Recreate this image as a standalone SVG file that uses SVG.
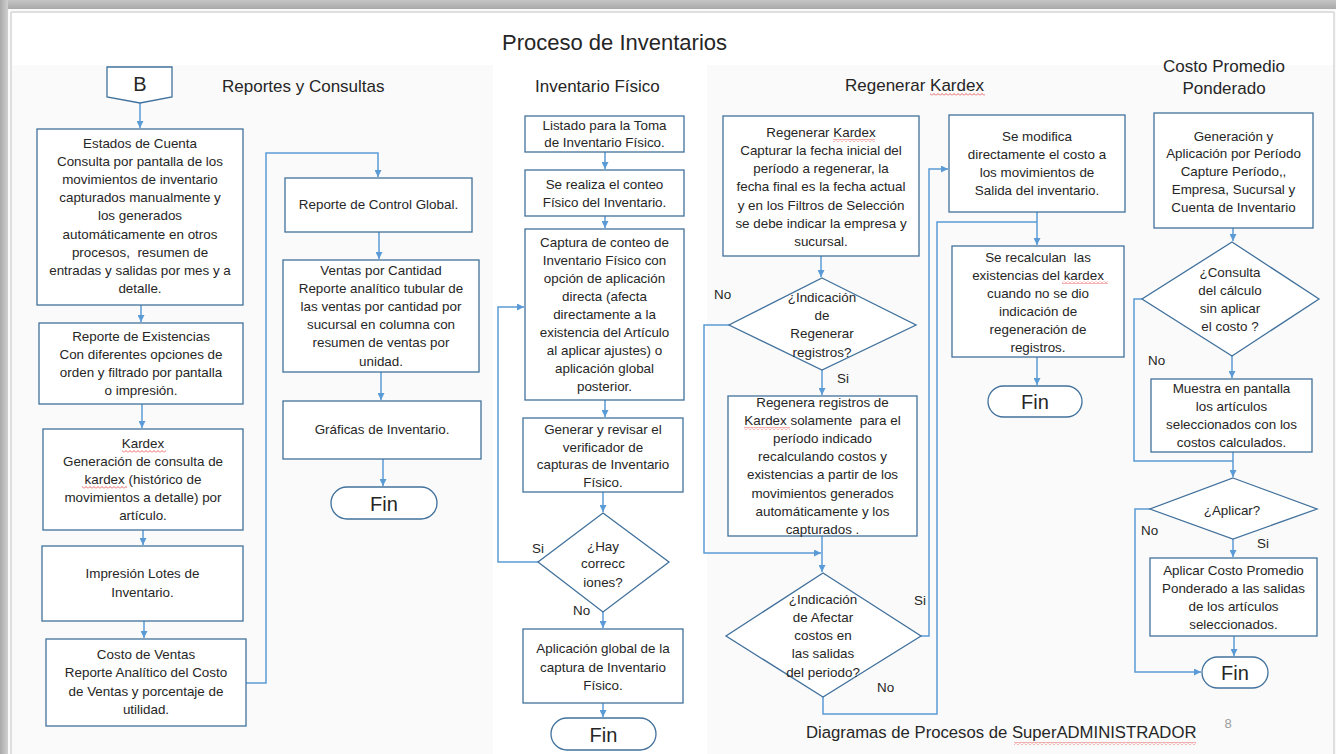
<svg xmlns="http://www.w3.org/2000/svg" width="1336" height="754" viewBox="0 0 1336 754">
<defs>
<linearGradient id="gt" x1="0" y1="0" x2="0" y2="1"><stop offset="0" stop-color="#c4c4c4"/><stop offset="1" stop-color="#a9a9a9"/></linearGradient>
<linearGradient id="gl" x1="0" y1="0" x2="1" y2="0"><stop offset="0" stop-color="#a9a9a9"/><stop offset="1" stop-color="#d0d0d0"/></linearGradient>
<marker id="ah" viewBox="0 0 8 8" refX="8" refY="4" markerWidth="7" markerHeight="7" orient="auto" markerUnits="userSpaceOnUse"><path d="M0,0 L8,4 L0,8 z" fill="#5b9bd5"/></marker>
<pattern id="sq" width="4" height="3" patternUnits="userSpaceOnUse"><path d="M0,2.5 L2,0.5 L4,2.5" stroke="#e23b3b" stroke-width="0.8" fill="none"/></pattern>
</defs>
<style>
.bx{fill:#ffffff;stroke:#41719c;stroke-width:1.3}
.tm{fill:#ffffff;stroke:#41719c;stroke-width:1.3}
.t{font-family:"Liberation Sans",Arial,sans-serif;font-size:13.4px;fill:#262626;text-anchor:middle;white-space:pre}
.lb{font-family:"Liberation Sans",Arial,sans-serif;font-size:13.4px;fill:#262626}
.h{font-family:"Liberation Sans",Arial,sans-serif;font-size:17px;fill:#262626}
.fin{font-family:"Liberation Sans",Arial,sans-serif;font-size:20px;fill:#262626;text-anchor:middle}
.c{fill:none;stroke:#5b9bd5;stroke-width:1.5}
.ca{fill:none;stroke:#5b9bd5;stroke-width:1.5;marker-end:url(#ah)}
</style>
<rect x="0" y="0" width="1336" height="754" fill="#fafafa"/>
<rect x="12" y="13" width="1322" height="52" fill="#ffffff"/>
<rect x="493" y="65" width="214" height="689" fill="#ffffff"/>
<rect x="0" y="0" width="1336" height="9" fill="url(#gt)"/>
<rect x="0" y="0" width="8" height="754" fill="url(#gl)"/>
<line x1="11" y1="12" x2="1334" y2="12" stroke="#d6d6d6" stroke-width="1.5"/>
<line x1="11" y1="12" x2="11" y2="754" stroke="#d6d6d6" stroke-width="1.5"/>
<line x1="1334" y1="12" x2="1334" y2="754" stroke="#d6d6d6" stroke-width="1.5"/>

<g id="titles">
<text x="502" y="50" style="font-family:'Liberation Sans',Arial,sans-serif;font-size:22px;fill:#262626">Proceso de Inventarios</text>
<text class="h" x="222" y="92">Reportes y Consultas</text>
<text class="h" x="535" y="92">Inventario Físico</text>
<text class="h" x="845" y="91">Regenerar Kardex</text>
<text class="h" x="1224" y="72" text-anchor="middle">Costo Promedio</text>
<text class="h" x="1224" y="94" text-anchor="middle">Ponderado</text>
<text x="806" y="738" style="font-family:'Liberation Sans',Arial,sans-serif;font-size:16.7px;fill:#262626">Diagramas de Procesos de SuperADMINISTRADOR</text>
<text x="1228" y="728" text-anchor="middle" style="font-family:'Liberation Sans',Arial,sans-serif;font-size:13px;fill:#9a9a9a">8</text>
</g>

<g id="connectors">
<path class="ca" d="M140,103 V128"/>
<path class="ca" d="M141,305 V322"/>
<path class="ca" d="M142,404 V428"/>
<path class="ca" d="M143,530 V545"/>
<path class="ca" d="M144,621 V638"/>
<path class="ca" d="M246,683 H266 V153 H378 V177"/>
<path class="ca" d="M379,232 V259"/>
<path class="ca" d="M381,372 V400"/>
<path class="ca" d="M383,459 V486"/>
<path class="ca" d="M605,152 V169"/>
<path class="ca" d="M605,216 V228"/>
<path class="ca" d="M605,400 V417"/>
<path class="ca" d="M603,492 V512"/>
<path class="ca" d="M538,562 H498 V307 H524"/>
<path class="ca" d="M603,612 V628"/>
<path class="ca" d="M603,703 V717"/>
<path class="ca" d="M821,256 V277"/>
<path class="ca" d="M822,370 V395"/>
<path class="ca" d="M729,325 H704 V553 H821"/>
<path class="ca" d="M822,536 V572"/>
<path class="ca" d="M921,636 H929 V169 H948"/>
<path class="c" d="M823,697 V714 H937 V222 H1037"/>
<path class="ca" d="M1037,212 V245"/>
<path class="ca" d="M1037,357 V385"/>
<path class="ca" d="M1233,228 V241"/>
<path class="ca" d="M1232,356 V378"/>
<path class="c" d="M1142,299 H1134 V461 H1233"/>
<path class="ca" d="M1233,452 V477"/>
<path class="ca" d="M1233,539 V557"/>
<path class="ca" d="M1150,509 H1135 V672 H1201"/>
<path class="ca" d="M1234,636 V656"/>
</g>

<g id="nB">
<path class="bx" d="M107,67 H172 V97 L140,103 L107,97 Z"/>
<text class="fin" x="140" y="91">B</text>
</g>

<g id="n1">
<rect class="bx" x="37" y="129" width="206" height="176"/>
<text class="t" xml:space="preserve"><tspan x="140" y="147.5">Estados de Cuenta</tspan><tspan x="140" y="165.7">Consulta por pantalla de los</tspan><tspan x="140" y="183.9">movimientos de inventario</tspan><tspan x="140" y="202.1">capturados manualmente y</tspan><tspan x="140" y="220.3">los generados</tspan><tspan x="140" y="238.5">automáticamente en otros</tspan><tspan x="140" y="256.7">procesos,  resumen de</tspan><tspan x="140" y="274.9">entradas y salidas por mes y a</tspan><tspan x="140" y="293.1">detalle.</tspan></text>
</g>

<g id="n2">
<rect class="bx" x="39" y="323" width="204" height="81"/>
<text class="t"><tspan x="141" y="340.5">Reporte de Existencias</tspan><tspan x="141" y="358.5">Con diferentes opciones de</tspan><tspan x="141" y="376.5">orden y filtrado por pantalla</tspan><tspan x="141" y="394.5">o impresión.</tspan></text>
</g>

<g id="n3">
<rect class="bx" x="43" y="429" width="200" height="101"/>
<text class="t"><tspan x="143" y="447.5">Kardex</tspan><tspan x="143" y="465.5">Generación de consulta de</tspan><tspan x="143" y="483.5">kardex (histórico de</tspan><tspan x="143" y="501.5">movimientos a detalle) por</tspan><tspan x="143" y="519.5">artículo.</tspan></text>
</g>

<g id="n4">
<rect class="bx" x="42" y="546" width="201" height="75"/>
<text class="t"><tspan x="142.5" y="577.5">Impresión Lotes de</tspan><tspan x="142.5" y="596.5">Inventario.</tspan></text>
</g>

<g id="n5">
<rect class="bx" x="46" y="639" width="200" height="87"/>
<text class="t"><tspan x="146" y="658.5">Costo de Ventas</tspan><tspan x="146" y="677">Reporte Analítico del Costo</tspan><tspan x="146" y="695.5">de Ventas y porcentaje de</tspan><tspan x="146" y="713.5">utilidad.</tspan></text>
</g>

<g id="n6">
<rect class="bx" x="285" y="178" width="187" height="54"/>
<text class="t" x="378.5" y="208.5">Reporte de Control Global.</text>
</g>

<g id="n7">
<rect class="bx" x="283" y="260" width="196" height="112"/>
<text class="t"><tspan x="381" y="274.5">Ventas por Cantidad</tspan><tspan x="381" y="292.7">Reporte analítico tubular de</tspan><tspan x="381" y="310.9">las ventas por cantidad por</tspan><tspan x="381" y="329.1">sucursal en columna con</tspan><tspan x="381" y="347.3">resumen de ventas por</tspan><tspan x="381" y="365.5">unidad.</tspan></text>
</g>

<g id="n8">
<rect class="bx" x="283" y="401" width="198" height="58"/>
<text class="t" x="382" y="433.5">Gráficas de Inventario.</text>
</g>

<g id="fin1">
<rect class="tm" x="331" y="487" width="106" height="32" rx="16"/>
<text class="fin" x="384" y="511">Fin</text>
</g>

<g id="n9">
<rect class="bx" x="525" y="116" width="159" height="36"/>
<text class="t"><tspan x="604.5" y="129.5">Listado para la Toma</tspan><tspan x="604.5" y="146.5">de Inventario Físico.</tspan></text>
</g>

<g id="n10">
<rect class="bx" x="525" y="170" width="159" height="46"/>
<text class="t"><tspan x="604.5" y="188.5">Se realiza el conteo</tspan><tspan x="604.5" y="206.5">Físico del Inventario.</tspan></text>
</g>

<g id="n11">
<rect class="bx" x="525" y="229" width="159" height="171"/>
<text class="t"><tspan x="604.5" y="246.5">Captura de conteo de</tspan><tspan x="604.5" y="264.5">Inventario Físico con</tspan><tspan x="604.5" y="282.5">opción de aplicación</tspan><tspan x="604.5" y="300.5">directa (afecta</tspan><tspan x="604.5" y="318.5">directamente a la</tspan><tspan x="604.5" y="336.5">existencia del Artículo</tspan><tspan x="604.5" y="354.5">al aplicar ajustes) o</tspan><tspan x="604.5" y="372.5">aplicación global</tspan><tspan x="604.5" y="390.5">posterior.</tspan></text>
</g>

<g id="n12">
<rect class="bx" x="523" y="418" width="160" height="74"/>
<text class="t"><tspan x="603" y="433.5">Generar y revisar el</tspan><tspan x="603" y="451.5">verificador de</tspan><tspan x="603" y="468.5">capturas de Inventario</tspan><tspan x="603" y="486.5">Físico.</tspan></text>
</g>

<g id="d1">
<path class="bx" d="M603,513 L669,562 L603,612 L538,562 Z"/>
<text class="t"><tspan x="603" y="550.5">¿Hay</tspan><tspan x="603" y="567.5">correcc</tspan><tspan x="603" y="586.5">iones?</tspan></text>
<text class="lb" x="532" y="553">Si</text>
<text class="lb" x="573" y="615">No</text>
</g>

<g id="n13">
<rect class="bx" x="523" y="629" width="160" height="74"/>
<text class="t"><tspan x="603" y="652.5">Aplicación global de la</tspan><tspan x="603" y="671.5">captura de Inventario</tspan><tspan x="603" y="689.5">Físico.</tspan></text>
</g>

<g id="fin2">
<rect class="tm" x="551" y="718" width="105" height="32" rx="16"/>
<text class="fin" x="603.5" y="742">Fin</text>
</g>

<g id="n14">
<rect class="bx" x="723" y="116" width="196" height="140"/>
<text class="t"><tspan x="821" y="136.5">Regenerar Kardex</tspan><tspan x="821" y="154.8">Capturar la fecha inicial del</tspan><tspan x="821" y="173.1">período a regenerar, la</tspan><tspan x="821" y="191.4">fecha final es la fecha actual</tspan><tspan x="821" y="209.7">y en los Filtros de Selección</tspan><tspan x="821" y="228">se debe indicar la empresa y</tspan><tspan x="821" y="246.3">sucursal.</tspan></text>
</g>

<g id="d2">
<path class="bx" d="M822,278 L916,325 L822,370 L729,325 Z"/>
<text class="t"><tspan x="822" y="301.5">¿Indicación</tspan><tspan x="822" y="319.5">de</tspan><tspan x="822" y="337.5">Regenerar</tspan><tspan x="822" y="356.5">registros?</tspan></text>
<text class="lb" x="714" y="298.5">No</text>
<text class="lb" x="837" y="382.5">Si</text>
</g>

<g id="n15">
<rect class="bx" x="728" y="396" width="189" height="140"/>
<text class="t" xml:space="preserve"><tspan x="822.5" y="406.5">Regenera registros de</tspan><tspan x="822.5" y="424.7">Kardex solamente  para el</tspan><tspan x="822.5" y="442.9">período indicado</tspan><tspan x="822.5" y="461.1">recalculando costos y</tspan><tspan x="822.5" y="479.3">existencias a partir de los</tspan><tspan x="822.5" y="497.5">movimientos generados</tspan><tspan x="822.5" y="515.7">automáticamente y los</tspan><tspan x="822.5" y="533.9">capturados .</tspan></text>
</g>

<g id="d3">
<path class="bx" d="M823,573 L921,636 L823,697 L726,636 Z"/>
<text class="t"><tspan x="823" y="603.5">¿Indicación</tspan><tspan x="823" y="621.5">de Afectar</tspan><tspan x="823" y="639.5">costos en</tspan><tspan x="823" y="657.5">las salidas</tspan><tspan x="823" y="676.5">del periodo?</tspan></text>
<text class="lb" x="914" y="604.5">Si</text>
<text class="lb" x="877" y="691.5">No</text>
</g>

<g id="n16">
<rect class="bx" x="949" y="115" width="176" height="97"/>
<text class="t"><tspan x="1037" y="140.5">Se modifica</tspan><tspan x="1037" y="158.8">directamente el costo a</tspan><tspan x="1037" y="177.1">los movimientos de</tspan><tspan x="1037" y="195.4">Salida del inventario.</tspan></text>
</g>

<g id="n17">
<rect class="bx" x="952" y="246" width="172" height="111"/>
<text class="t" xml:space="preserve"><tspan x="1038" y="261.5">Se recalculan  las</tspan><tspan x="1038" y="279.6">existencias del kardex</tspan><tspan x="1038" y="297.7">cuando no se dio</tspan><tspan x="1038" y="315.8">indicación de</tspan><tspan x="1038" y="333.9">regeneración de</tspan><tspan x="1038" y="352">registros.</tspan></text>
</g>

<g id="fin3">
<rect class="tm" x="988" y="386" width="94" height="31" rx="15.5"/>
<text class="fin" x="1035" y="408.5">Fin</text>
</g>

<g id="n18">
<rect class="bx" x="1154" y="113" width="159" height="115"/>
<text class="t"><tspan x="1233.5" y="140.5">Generación y</tspan><tspan x="1233.5" y="158.3">Aplicación por Período</tspan><tspan x="1233.5" y="176.1">Capture Período,,</tspan><tspan x="1233.5" y="193.9">Empresa, Sucursal y</tspan><tspan x="1233.5" y="211.7">Cuenta de Inventario</tspan></text>
</g>

<g id="d4">
<path class="bx" d="M1232,242 L1319,299 L1232,356 L1142,299 Z"/>
<text class="t"><tspan x="1230" y="276.5">¿Consulta</tspan><tspan x="1230" y="294.5">del cálculo</tspan><tspan x="1230" y="312.5">sin aplicar</tspan><tspan x="1230" y="330.5">el costo ?</tspan></text>
<text class="lb" x="1148" y="364.5">No</text>
</g>

<g id="n19">
<rect class="bx" x="1151" y="379" width="161" height="73"/>
<text class="t"><tspan x="1231.5" y="392.5">Muestra en pantalla</tspan><tspan x="1231.5" y="410.5">los artículos</tspan><tspan x="1231.5" y="428.5">seleccionados con los</tspan><tspan x="1231.5" y="446.5">costos calculados.</tspan></text>
</g>

<g id="d5">
<path class="bx" d="M1233,478 L1317,509 L1233,539 L1150,509 Z"/>
<text class="t" x="1232" y="514.5">¿Aplicar?</text>
<text class="lb" x="1141" y="534.5">No</text>
<text class="lb" x="1257" y="547.5">Si</text>
</g>

<g id="n20">
<rect class="bx" x="1150" y="558" width="167" height="78"/>
<text class="t"><tspan x="1233.5" y="574.5">Aplicar Costo Promedio</tspan><tspan x="1233.5" y="592.5">Ponderado a las salidas</tspan><tspan x="1233.5" y="610.5">de los artículos</tspan><tspan x="1233.5" y="628.5">seleccionados.</tspan></text>
</g>

<g id="fin4">
<rect class="tm" x="1202" y="657" width="66" height="31" rx="15.5"/>
<text class="fin" x="1235" y="679.5">Fin</text>
</g>

<g id="spellcheck">
<rect x="122" y="450" width="44" height="3" fill="url(#sq)"/>
<rect x="82" y="486" width="45" height="3" fill="url(#sq)"/>
<rect x="930" y="93" width="55" height="3" fill="url(#sq)"/>
<rect x="833" y="139" width="42" height="3" fill="url(#sq)"/>
<rect x="744" y="427" width="46" height="3" fill="url(#sq)"/>
<rect x="1062" y="281" width="46" height="3" fill="url(#sq)"/>
<rect x="1014" y="742" width="182" height="3" fill="url(#sq)"/>
</g>
</svg>
